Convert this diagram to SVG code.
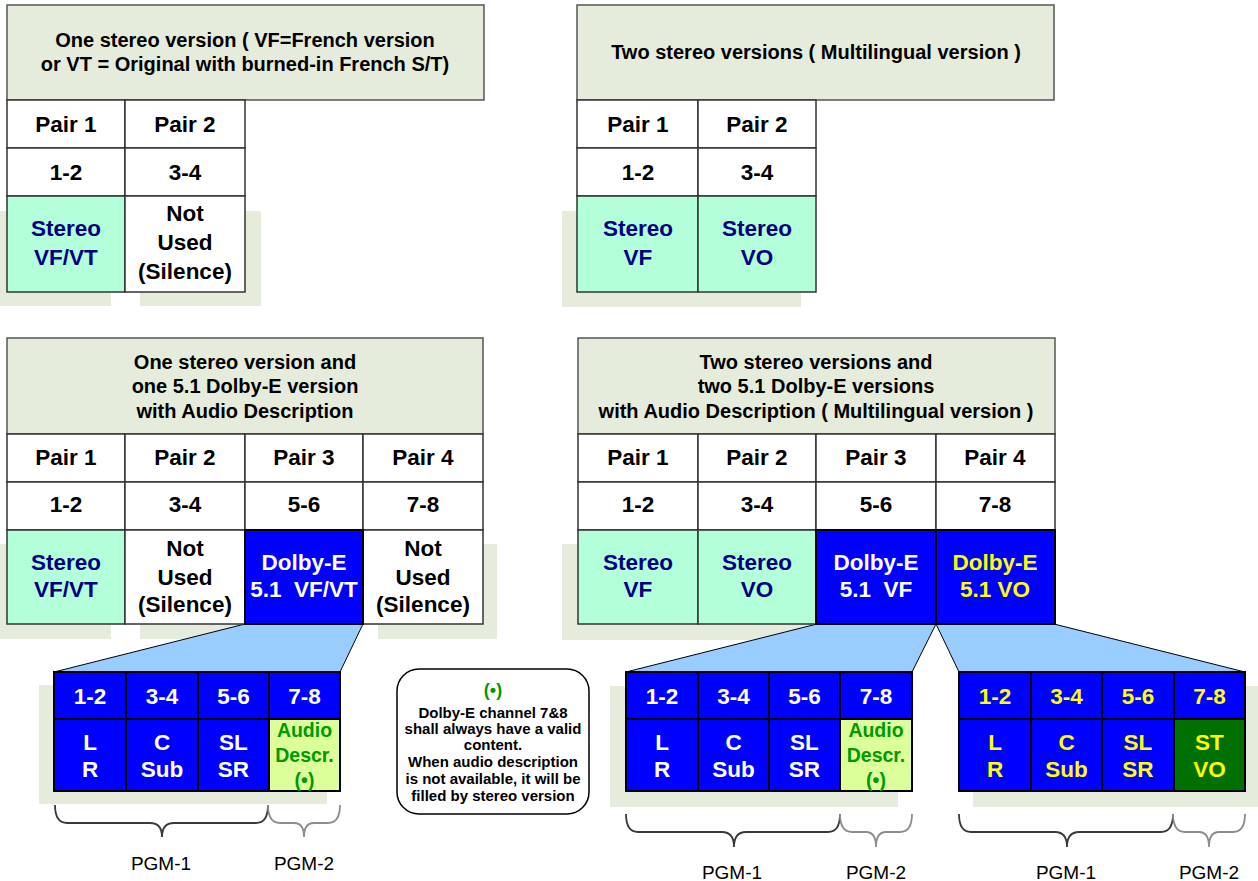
<svg xmlns="http://www.w3.org/2000/svg" width="1258" height="881" viewBox="0 0 1258 881">
<style>
.bg{fill:#fff}
.sh{fill:#e6ecdb}
.hdr{fill:#e6ecdb;stroke:#555;stroke-width:1.5}
.c{fill:#fff;stroke:#333;stroke-width:1.5}
.st{fill:#b3ffd9;stroke:#333;stroke-width:1.5}
.dol{fill:#0000ff;stroke:#000;stroke-width:2}
.ad{fill:#ddff99;stroke:#000;stroke-width:2}
.gc{fill:#007000;stroke:#000;stroke-width:2}
.poly{fill:#99ccff;stroke:#000;stroke-width:1}
.note{fill:#fff;stroke:#000;stroke-width:1.5}
.br1{fill:none;stroke:#3a3a3a;stroke-width:1.8}
.br2{fill:none;stroke:#8c8c8c;stroke-width:1.8}
text{font-family:"Liberation Sans",Arial,sans-serif;font-weight:bold;text-anchor:middle}
.h{font-size:20px;fill:#000}
.p{font-size:22.5px;fill:#000}
.nv{font-size:22.5px;fill:#000080}
.w{font-size:22.5px;fill:#fff}
.y{font-size:22.5px;fill:#ffff00}
.g{font-size:19.5px;fill:#009900}
.n{font-size:15px;fill:#000}
.ng{font-size:18px;fill:#009900}
.pg{font-size:19px;font-weight:normal;fill:#000}
</style>
<rect class="bg" x="0" y="0" width="1258" height="881"/>

<g id="shadows">
<rect class="sh" x="0" y="211" width="111" height="95"/>
<rect class="sh" x="140" y="211" width="121" height="95"/>
<rect class="sh" x="562" y="211" width="239" height="96"/>
<rect class="sh" x="0" y="544" width="111" height="95"/>
<rect class="sh" x="140" y="544" width="121" height="95"/>
<rect class="sh" x="378" y="544" width="119" height="95"/>
<rect class="sh" x="562" y="544" width="256" height="96"/>
<rect class="sh" x="39" y="685" width="288" height="119"/>
<rect class="sh" x="610" y="686" width="288" height="121"/>
<rect class="sh" x="973" y="686" width="285" height="121"/>
</g>

<g id="connectors">
<polygon class="poly" points="245,624 363,624 340,672 54,672"/>
<polygon class="poly" points="817,624 936,624 912,672 626,672"/>
<polygon class="poly" points="936,624 1054,624 1245,672 959,672"/>
<path class="br1" d="M55,805 Q55,823 67,823 H150 Q162,823 162,837 Q162,823 174,823 H256 Q268,823 268,805"/>
<path class="br2" d="M268,805 Q268,823 280,823 H294 Q304,823 304,837 Q304,823 314,823 H328 Q340,823 340,805"/>
<path class="br1" d="M626,814 Q626,832 638,832 H722 Q734,832 734,847 Q734,832 746,832 H828 Q840,832 840,814"/>
<path class="br2" d="M840,814 Q840,832 852,832 H866 Q876,832 876,847 Q876,832 886,832 H900 Q912,832 912,814"/>
<path class="br1" d="M959,814 Q959,832 971,832 H1055 Q1067,832 1067,847 Q1067,832 1079,832 H1161 Q1173,832 1173,814"/>
<path class="br2" d="M1173,814 Q1173,832 1185,832 H1199 Q1209,832 1209,847 Q1209,832 1219,832 H1233 Q1245,832 1245,814"/>
</g>

<g id="table-top-left">
<rect class="hdr" x="7" y="5" width="477" height="95"/>
<text class="h" x="245" y="47">One stereo version ( VF=French version</text>
<text class="h" x="245" y="71">or VT = Original with burned-in French S/T)</text>
<rect class="c" x="7" y="100" width="118" height="48"/>
<rect class="c" x="125" y="100" width="120" height="48"/>
<rect class="c" x="7" y="148" width="118" height="48"/>
<rect class="c" x="125" y="148" width="120" height="48"/>
<rect class="st" x="7" y="196" width="118" height="96"/>
<rect class="c" x="125" y="196" width="120" height="96"/>
<text class="p" x="66" y="132">Pair 1</text>
<text class="p" x="185" y="132">Pair 2</text>
<text class="p" x="66" y="180">1-2</text>
<text class="p" x="185" y="180">3-4</text>
<text class="nv" x="66" y="236">Stereo</text>
<text class="nv" x="66" y="265">VF/VT</text>
<text class="p" x="185" y="221">Not</text>
<text class="p" x="185" y="250">Used</text>
<text class="p" x="185" y="279">(Silence)</text>
</g>

<g id="table-top-right">
<rect class="hdr" x="577" y="5" width="477" height="95"/>
<text class="h" x="816" y="59">Two stereo versions ( Multilingual version )</text>
<rect class="c" x="577" y="100" width="121" height="48"/>
<rect class="c" x="698" y="100" width="118" height="48"/>
<rect class="c" x="577" y="148" width="121" height="48"/>
<rect class="c" x="698" y="148" width="118" height="48"/>
<rect class="st" x="577" y="196" width="121" height="96"/>
<rect class="st" x="698" y="196" width="118" height="96"/>
<text class="p" x="638" y="132">Pair 1</text>
<text class="p" x="757" y="132">Pair 2</text>
<text class="p" x="638" y="180">1-2</text>
<text class="p" x="757" y="180">3-4</text>
<text class="nv" x="638" y="236">Stereo</text>
<text class="nv" x="638" y="265">VF</text>
<text class="nv" x="757" y="236">Stereo</text>
<text class="nv" x="757" y="265">VO</text>
</g>

<g id="table-mid-left">
<rect class="hdr" x="7" y="338" width="476" height="96"/>
<text class="h" x="245" y="369">One stereo version and</text>
<text class="h" x="245" y="393">one 5.1 Dolby-E version</text>
<text class="h" x="245" y="418">with Audio Description</text>
<rect class="c" x="7" y="434" width="118" height="48"/>
<rect class="c" x="125" y="434" width="120" height="48"/>
<rect class="c" x="245" y="434" width="118" height="48"/>
<rect class="c" x="363" y="434" width="120" height="48"/>
<rect class="c" x="7" y="482" width="118" height="48"/>
<rect class="c" x="125" y="482" width="120" height="48"/>
<rect class="c" x="245" y="482" width="118" height="48"/>
<rect class="c" x="363" y="482" width="120" height="48"/>
<rect class="st" x="7" y="530" width="118" height="94"/>
<rect class="c" x="125" y="530" width="120" height="94"/>
<rect class="c" x="363" y="530" width="120" height="94"/>
<rect class="dol" x="245" y="530" width="118" height="94"/>
<text class="p" x="66" y="465">Pair 1</text>
<text class="p" x="185" y="465">Pair 2</text>
<text class="p" x="304" y="465">Pair 3</text>
<text class="p" x="423" y="465">Pair 4</text>
<text class="p" x="66" y="512">1-2</text>
<text class="p" x="185" y="512">3-4</text>
<text class="p" x="304" y="512">5-6</text>
<text class="p" x="423" y="512">7-8</text>
<text class="nv" x="66" y="570">Stereo</text>
<text class="nv" x="66" y="597">VF/VT</text>
<text class="p" x="185" y="556">Not</text>
<text class="p" x="185" y="585">Used</text>
<text class="p" x="185" y="612">(Silence)</text>
<text class="w" x="304" y="570">Dolby-E</text>
<text class="w" x="304" y="597" xml:space="preserve">5.1  VF/VT</text>
<text class="p" x="423" y="556">Not</text>
<text class="p" x="423" y="585">Used</text>
<text class="p" x="423" y="612">(Silence)</text>
</g>

<g id="table-mid-right">
<rect class="hdr" x="578" y="338" width="477" height="96"/>
<text class="h" x="816" y="369">Two stereo versions and</text>
<text class="h" x="816" y="393">two 5.1 Dolby-E versions</text>
<text class="h" x="816" y="418">with Audio Description ( Multilingual version )</text>
<rect class="c" x="578" y="434" width="120" height="48"/>
<rect class="c" x="698" y="434" width="118" height="48"/>
<rect class="c" x="816" y="434" width="120" height="48"/>
<rect class="c" x="936" y="434" width="119" height="48"/>
<rect class="c" x="578" y="482" width="120" height="48"/>
<rect class="c" x="698" y="482" width="118" height="48"/>
<rect class="c" x="816" y="482" width="120" height="48"/>
<rect class="c" x="936" y="482" width="119" height="48"/>
<rect class="st" x="578" y="530" width="120" height="94"/>
<rect class="st" x="698" y="530" width="118" height="94"/>
<rect class="dol" x="816" y="530" width="120" height="94"/>
<rect class="dol" x="936" y="530" width="119" height="94"/>
<text class="p" x="638" y="465">Pair 1</text>
<text class="p" x="757" y="465">Pair 2</text>
<text class="p" x="876" y="465">Pair 3</text>
<text class="p" x="995" y="465">Pair 4</text>
<text class="p" x="638" y="512">1-2</text>
<text class="p" x="757" y="512">3-4</text>
<text class="p" x="876" y="512">5-6</text>
<text class="p" x="995" y="512">7-8</text>
<text class="nv" x="638" y="570">Stereo</text>
<text class="nv" x="638" y="597">VF</text>
<text class="nv" x="757" y="570">Stereo</text>
<text class="nv" x="757" y="597">VO</text>
<text class="w" x="876" y="570">Dolby-E</text>
<text class="w" x="876" y="597" xml:space="preserve">5.1  VF</text>
<text class="y" x="995" y="570">Dolby-E</text>
<text class="y" x="995" y="597">5.1 VO</text>
</g>

<g id="sub-left">
<rect class="dol" x="54" y="672" width="72" height="47"/>
<rect class="dol" x="126" y="672" width="72" height="47"/>
<rect class="dol" x="198" y="672" width="71" height="47"/>
<rect class="dol" x="269" y="672" width="71" height="47"/>
<rect class="dol" x="54" y="719" width="72" height="72"/>
<rect class="dol" x="126" y="719" width="72" height="72"/>
<rect class="dol" x="198" y="719" width="71" height="72"/>
<rect class="ad" x="269" y="719" width="71" height="72"/>
<text class="w" x="90" y="704">1-2</text>
<text class="w" x="162" y="704">3-4</text>
<text class="w" x="233.5" y="704">5-6</text>
<text class="w" x="304.5" y="704">7-8</text>
<text class="w" x="90" y="750">L</text>
<text class="w" x="90" y="777">R</text>
<text class="w" x="162" y="750">C</text>
<text class="w" x="162" y="777">Sub</text>
<text class="w" x="233.5" y="750">SL</text>
<text class="w" x="233.5" y="777">SR</text>
<text class="g" x="304.5" y="737">Audio</text>
<text class="g" x="304.5" y="762">Descr.</text>
<text class="g" x="304.5" y="787">(•)</text>
<text class="pg" x="161" y="870">PGM-1</text>
<text class="pg" x="304" y="870">PGM-2</text>
</g>

<g id="note">
<rect class="note" x="397" y="669" width="192" height="145" rx="22" ry="22"/>
<text class="ng" x="493" y="696">(•)</text>
<text class="n" x="493" y="718">Dolby-E channel 7&amp;8</text>
<text class="n" x="493" y="734">shall always have a valid</text>
<text class="n" x="493" y="750">content.</text>
<text class="n" x="493" y="767">When audio description</text>
<text class="n" x="493" y="784">is not available, it will be</text>
<text class="n" x="493" y="801">filled by stereo version</text>
</g>

<g id="sub-right-vf">
<rect class="dol" x="626" y="672" width="72" height="47"/>
<rect class="dol" x="698" y="672" width="71" height="47"/>
<rect class="dol" x="769" y="672" width="71" height="47"/>
<rect class="dol" x="840" y="672" width="72" height="47"/>
<rect class="dol" x="626" y="719" width="72" height="72"/>
<rect class="dol" x="698" y="719" width="71" height="72"/>
<rect class="dol" x="769" y="719" width="71" height="72"/>
<rect class="ad" x="840" y="719" width="72" height="72"/>
<text class="w" x="662" y="704">1-2</text>
<text class="w" x="733.5" y="704">3-4</text>
<text class="w" x="804.5" y="704">5-6</text>
<text class="w" x="876" y="704">7-8</text>
<text class="w" x="662" y="750">L</text>
<text class="w" x="662" y="777">R</text>
<text class="w" x="733.5" y="750">C</text>
<text class="w" x="733.5" y="777">Sub</text>
<text class="w" x="804.5" y="750">SL</text>
<text class="w" x="804.5" y="777">SR</text>
<text class="g" x="876" y="737">Audio</text>
<text class="g" x="876" y="762">Descr.</text>
<text class="g" x="876" y="787">(•)</text>
<text class="pg" x="732" y="879">PGM-1</text>
<text class="pg" x="876" y="879">PGM-2</text>
</g>

<g id="sub-right-vo">
<rect class="dol" x="959" y="672" width="72" height="47"/>
<rect class="dol" x="1031" y="672" width="71" height="47"/>
<rect class="dol" x="1102" y="672" width="72" height="47"/>
<rect class="dol" x="1174" y="672" width="71" height="47"/>
<rect class="dol" x="959" y="719" width="72" height="72"/>
<rect class="dol" x="1031" y="719" width="71" height="72"/>
<rect class="dol" x="1102" y="719" width="72" height="72"/>
<rect class="gc" x="1174" y="719" width="71" height="72"/>
<text class="y" x="995" y="704">1-2</text>
<text class="y" x="1066.5" y="704">3-4</text>
<text class="y" x="1138" y="704">5-6</text>
<text class="y" x="1209.5" y="704">7-8</text>
<text class="y" x="995" y="750">L</text>
<text class="y" x="995" y="777">R</text>
<text class="y" x="1066.5" y="750">C</text>
<text class="y" x="1066.5" y="777">Sub</text>
<text class="y" x="1138" y="750">SL</text>
<text class="y" x="1138" y="777">SR</text>
<text class="y" x="1209.5" y="750">ST</text>
<text class="y" x="1209.5" y="777">VO</text>
<text class="pg" x="1066" y="879">PGM-1</text>
<text class="pg" x="1209" y="879">PGM-2</text>
</g>
</svg>
